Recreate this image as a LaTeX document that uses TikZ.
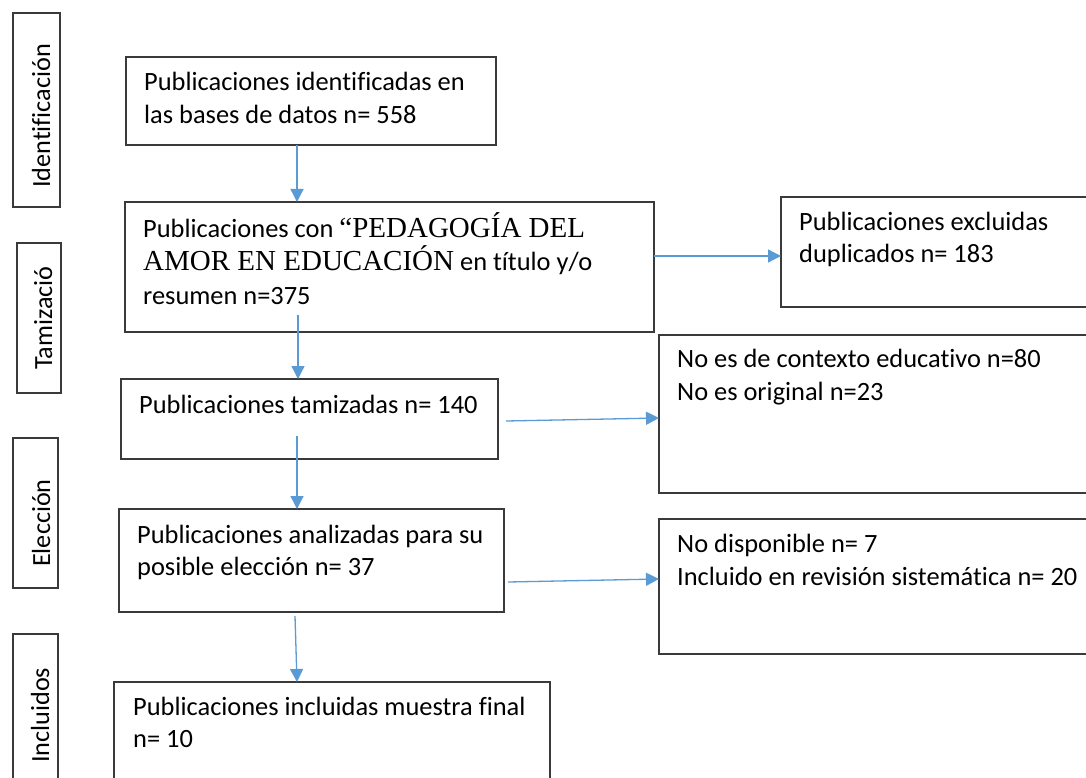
\documentclass[tikz,border=0pt]{standalone}
\usepackage{fontspec}
\setmainfont{Carlito}[RawFeature={-liga;-clig;-dlig}]
\newfontfamily\tnr{Liberation Serif}
\usetikzlibrary{arrows.meta}
\definecolor{arrowblue}{HTML}{5B9BD5}
\definecolor{boxgray}{HTML}{3A3A3A}
\tikzset{
 box/.style={draw=boxgray, line width=1.3pt, rectangle, inner sep=0pt, outer sep=0pt, anchor=north west},
 txt/.style={anchor=base west, inner sep=0pt, font=\fontsize{26.4}{33}\selectfont},
 side/.style={anchor=base west, inner sep=0pt, rotate=90, font=\fontsize{26.2}{33}\selectfont},
 flow/.style={draw=arrowblue, line width=1.3pt, -{Triangle[width=13pt,length=13pt]}},
}
\newcommand\twolines[3]{\vtop{\baselineskip=#1\lineskiplimit=-50pt\hbox{#2}\hbox{#3}}}
\newcommand\threelines[4]{\vtop{\baselineskip=#1\lineskiplimit=-50pt\hbox{#2}\hbox{#3}\hbox{#4}}}
\newcommand\tms{\tnr\fontsize{29}{33}\selectfont}
\begin{document}
\begin{tikzpicture}[x=1pt,y=-1pt]
\useasboundingbox (0,0) rectangle (1086,778);
\clip (0,0) rectangle (1086,778);
\fill[white] (0,0) rectangle (1086,778);
% side label boxes
\node[box, minimum width=47pt, minimum height=194pt] (s1) at (13,13) {};
\node[box, minimum width=44pt, minimum height=150pt] (s2) at (17,243) {};
\node[box, minimum width=45pt, minimum height=150pt] (s3) at (13,438) {};
\node[box, minimum width=45pt, minimum height=180pt] (s4) at (13,634) {};
\node[side] (t1) at (50,188) {Identificación};
\node[side] (t2) at (52,370) {Tamizació};
\node[side] (t3) at (50,567) {Elección};
\node[side] (t4) at (49,763) {Incluidos};
% main boxes
\node[box, minimum width=370pt, minimum height=88pt] (b1) at (126,57) {};
\node[box, minimum width=529pt, minimum height=130pt] (b2) at (125,202) {};
\node[box, minimum width=377pt, minimum height=80pt] (b3) at (121,379) {};
\node[box, minimum width=385pt, minimum height=103pt] (b4) at (119,509) {};
\node[box, minimum width=436pt, minimum height=140pt] (b5) at (114,682) {};
% exclusion boxes
\node[box, minimum width=340pt, minimum height=110pt] (e1) at (781,197) {};
\node[box, minimum width=450pt, minimum height=158pt] (e2) at (659,335) {};
\node[box, minimum width=450pt, minimum height=135pt] (e3) at (659,519) {};
% texts
\node[txt] (tb1) at (144,90.5) {\twolines{32.7pt}{Publicaciones identificadas en}{las bases de datos n= 558}};
\node[txt] (tb2) at (143,237) {\threelines{33.5pt}{Publicaciones con {\tms “PEDAGOGÍA DEL}}{{\tms AMOR EN EDUCACIÓN} en título y/o}{resumen n=375}};
\node[txt] (tb3) at (139,413) {Publicaciones tamizadas n= 140};
\node[txt] (tb4) at (137,543) {\twolines{32.7pt}{Publicaciones analizadas para su}{posible elección n= 37}};
\node[txt] (tb5) at (133,715) {\twolines{32.5pt}{Publicaciones incluidas muestra final}{n= 10}};
\node[txt] (te1) at (799,230) {\twolines{32.5pt}{Publicaciones excluidas}{duplicados n= 183}};
\node[txt] (te2) at (677,367) {\twolines{33pt}{No es de contexto educativo n=80}{No es original n=23}};
\node[txt] (te3) at (677,552) {\twolines{33pt}{No disponible n= 7}{Incluido en revisión sistemática n= 20}};
% helper coordinates
\coordinate (x297) at (297,0);
\coordinate (y256) at (0,256);
\coordinate (a3s) at (298,315);
\coordinate (a4s) at (506,421);
\coordinate (a4e) at (0,418);
\coordinate (a5s) at (297,436);
\coordinate (a6s) at (508,582);
\coordinate (a6e) at (0,579);
\coordinate (a7s) at (295,616);
% arrows
\draw[flow] (b1.south -| x297) -- (b2.north -| x297);
\draw[flow] (b2.east |- y256) -- (e1.west |- y256);
\draw[flow] (a3s) -- (b3.north -| a3s);
\draw[flow] (a4s) -- (e2.west |- a4e);
\draw[flow] (a5s) -- (b4.north -| a5s);
\draw[flow] (a6s) -- (e3.west |- a6e);
\draw[flow] (a7s) -- (b5.north -| x297);
\end{tikzpicture}
\end{document}
